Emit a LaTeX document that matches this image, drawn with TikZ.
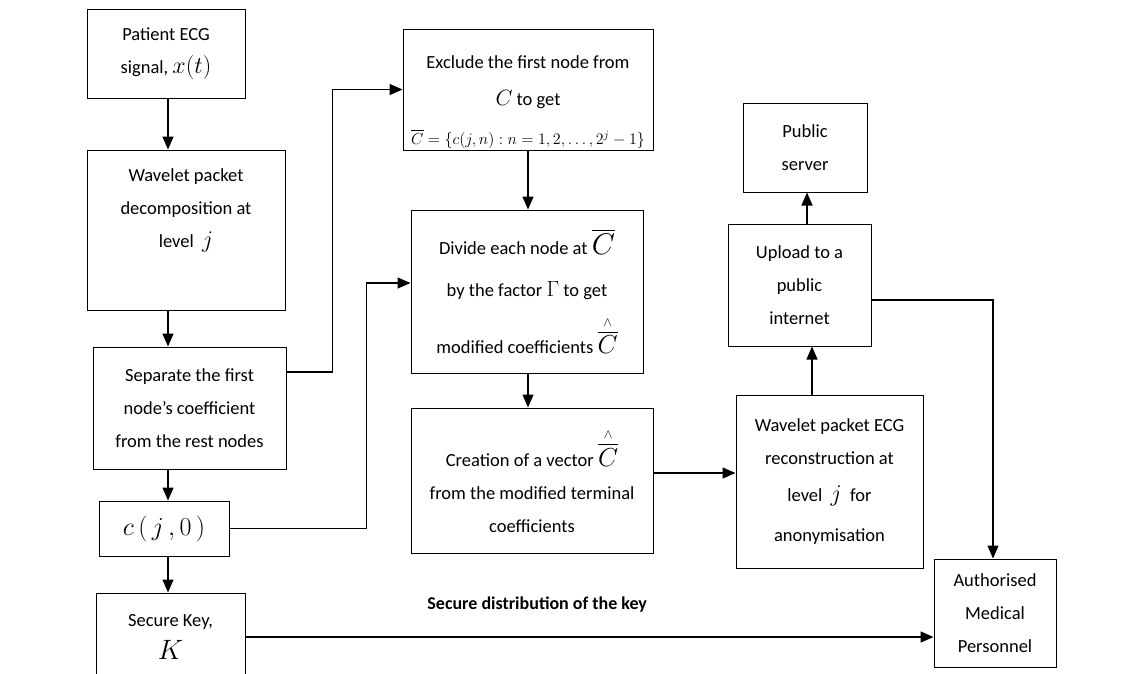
\RequirePackage{fix-cm}
\documentclass[tikz,border=0pt]{standalone}
\usepackage{amsmath}
\usepackage{fontspec}
\setmainfont{Carlito}
\usetikzlibrary{arrows.meta}
\newcommand{\bigmath}[2]{{\fontsize{#1}{#1}\selectfont$#2$}}
\newcommand{\hatbar}{\overset{\scriptscriptstyle\wedge}{\overline{C}}}

\begin{document}
\begin{tikzpicture}[x=1pt, y=-1pt,
    box/.style={draw, line width=1pt, align=center, inner sep=2pt, font=\fontsize{18.5}{33}\selectfont},
    arr/.style={line width=1.4pt, -{Triangle[length=13pt, width=11pt]}}]
    \useasboundingbox (0,0) rectangle (1140,673);
    \clip (0,0) rectangle (1140,673);

    \node[box, minimum width=158, minimum height=89] (patient) at (166,53.5) {Patient ECG\\signal, \bigmath{24}{x(t)}};
    \node[box, minimum width=198, minimum height=160] (decomp) at (186,230) {Wavelet packet\\decomposition at\\level \ \bigmath{24}{j}\\ \strut};
    \node[box, minimum width=193, minimum height=122] (separate) at (189.5,408) {Separate the first\\node's coefficient\\from the rest nodes};
    \node[box, minimum width=130, minimum height=55] (cjz) at (164,528.5) {\bigmath{26}{c\,(\,j\,,0\,)}};
    \node[box, minimum width=149, minimum height=88] (key) at (170.5,637) {Secure Key,\\\bigmath{28}{K}};

    \node[box, minimum width=250, minimum height=115] (exclude) at (528,89.5) {\rule{0pt}{37pt}Exclude the first node from\\[4pt]\bigmath{22}{C} to get\\[6pt]\bigmath{16}{\overline{C}=\{c(j,n):n=1,2,\ldots,2^{j}-1\}}};
    \node[box, minimum width=232, minimum height=163] (divide) at (527,291.5) {Divide each node at \bigmath{30}{\overline{C}}\\[9pt]by the factor \bigmath{22}{\Gamma} to get\\[16pt]modified coefficients \bigmath{26}{\hatbar}};
    \node[box, minimum width=242, minimum height=145] (creation) at (532,480.5) {Creation of a vector \bigmath{26}{\hatbar}\\from the modified terminal\\coefficients};

    \node[box, minimum width=124, minimum height=89] (public) at (805,147.5) {Public\\server};
    \node[box, minimum width=143, minimum height=122] (upload) at (799.5,285) {Upload to a\\public\\internet};
    \node[box, minimum width=187, minimum height=173] (recon) at (829.5,481.5) {Wavelet packet ECG\\reconstruction at\\[4pt]level \ \bigmath{24}{j} \ for\\[7pt]anonymisation};
    \node[box, minimum width=122, minimum height=108] (auth) at (995,613) {Authorised\\Medical\\Personnel};

    \coordinate (spine) at (168,0);
    \draw[arr] (spine |- patient.south) -- (spine |- decomp.north);
    \draw[arr] (spine |- decomp.south) -- (spine |- separate.north);
    \draw[arr] (spine |- separate.south) -- (spine |- cjz.north);
    \draw[arr] (spine |- cjz.south) -- (spine |- key.north);

    \draw[arr] ([yshift=36pt]separate.east) -- ++(46,0) |- (exclude.west);
    \draw[arr] (cjz.east) -- ++(137,0) |- ([yshift=8.5pt]divide.west);
    \draw[arr] (exclude.south) -- (exclude.south |- divide.north);
    \draw[arr] (exclude.south |- divide.south) -- (exclude.south |- creation.north);
    \draw[arr] ([yshift=7.5pt]creation.east) -- ([yshift=7.5pt]creation.east -| recon.west);

    \draw[arr] ([xshift=-17.5pt]recon.north) -- ([xshift=-17.5pt]recon.north |- upload.south);
    \draw[arr] ([xshift=7.5pt]upload.north) -- ([xshift=7.5pt]upload.north |- public.south);
    \draw[arr] ([yshift=-15pt]upload.east) -| ([xshift=-2pt]auth.north);
    \draw[arr] (key.east) -- (key.east -| auth.west)
        node[pos=0.424, above=24pt, inner sep=0pt, font=\bfseries\fontsize{18}{18}\selectfont] {Secure distribution of the key};
\end{tikzpicture}
\end{document}
